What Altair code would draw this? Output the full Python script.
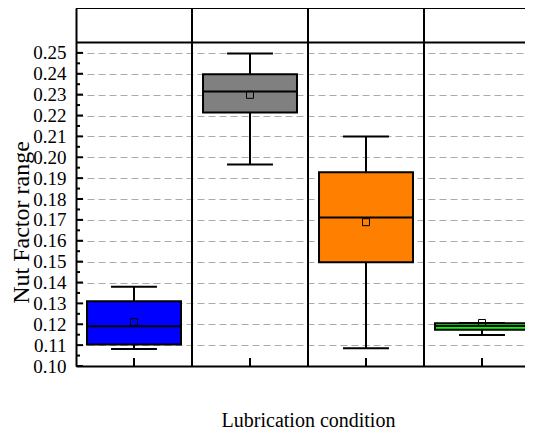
import altair as alt
import pandas as pd

# ---- data ----
conditions = ["Condition 1", "Condition 2", "Condition 3", "Condition 4"]
whisker_low = [0.1081, 0.1965, 0.1085, 0.1149]
q1 = [0.1103, 0.2214, 0.1497, 0.1174]
median = [0.1190, 0.2315, 0.1711, 0.1192]
q3 = [0.1310, 0.2398, 0.1928, 0.1205]
whisker_high = [0.1380, 0.2497, 0.2100, 0.1206]
means = [0.1210, 0.2299, 0.1689, 0.1206]
colors = ["#0000FF", "#808080", "#FF8000", "#00FF00"]
y_ticks = [0.10, 0.11, 0.12, 0.13, 0.14, 0.15, 0.16, 0.17, 0.18, 0.19,
           0.20, 0.21, 0.22, 0.23, 0.24, 0.25]
y_minor = [0.105, 0.115, 0.125, 0.135, 0.145, 0.155, 0.165, 0.175, 0.185,
           0.195, 0.205, 0.215, 0.225, 0.235, 0.245]
header_line = [0.255]

W, H = 449, 358
X_MAX = 449 / 116
Y_DOMAIN = [0.10, 0.2715]
BOX_HALF = 0.405
CAP_HALF = 0.198
FONT = "Liberation Serif"

df = pd.DataFrame({
    "cond": conditions,
    "lo": whisker_low, "q1": q1, "med": median, "q3": q3, "hi": whisker_high,
    "mean": means,
})
df["pos"] = [i + 0.5 for i in range(len(conditions))]
df["bl"] = df["pos"] - BOX_HALF
df["br"] = df["pos"] + BOX_HALF
df["cl"] = df["pos"] - CAP_HALF
df["cr"] = df["pos"] + CAP_HALF

xscale = alt.Scale(domain=[0, X_MAX], nice=False, zero=False)
yscale = alt.Scale(domain=Y_DOMAIN, nice=False, zero=False)

x_axis = alt.Axis(title="Lubrication condition", labels=False, ticks=False,
                  grid=False, domain=True, domainColor="black", domainWidth=2,
                  titleFont=FONT, titleFontSize=20, titleFontWeight="normal",
                  titleColor="black", titleX=232, titleY=60,
                  titleAlign="center", titleBaseline="alphabetic")
y_axis = alt.Axis(title="Nut Factor range", values=y_ticks, format=".2f",
                  ticks=False, tickSize=0, labelPadding=10,
                  labelFont=FONT, labelFontSize=19, labelColor="black",
                  domain=True, domainColor="black", domainWidth=2,
                  grid=True, gridColor="#aaaaaa", gridDash=[7, 4], gridWidth=1,
                  titleFont=FONT, titleFontSize=24, titleFontWeight="normal",
                  titleColor="black", titleX=-48, titleY=214, titleAngle=270,
                  titleAlign="center", titleBaseline="alphabetic")


def X(field):
    return alt.X(field, type="quantitative", scale=xscale, axis=x_axis)


def Y(field):
    return alt.Y(field, type="quantitative", scale=yscale, axis=y_axis)


base = alt.Chart(df)

whisk = base.mark_rule(color="black", strokeWidth=2).encode(
    x=X("pos"), y=Y("lo"), y2="hi")
cap_lo = base.mark_rule(color="black", strokeWidth=2).encode(
    x=X("cl"), x2="cr", y=Y("lo"))
cap_hi = base.mark_rule(color="black", strokeWidth=2).encode(
    x=X("cl"), x2="cr", y=Y("hi"))
boxes = base.mark_rect(stroke="black", strokeWidth=2).encode(
    x=X("bl"), x2="br", y=Y("q1"), y2="q3",
    color=alt.Color("cond:N", scale=alt.Scale(domain=conditions, range=colors),
                    legend=None))
med = base.mark_rule(color="black", strokeWidth=2).encode(
    x=X("bl"), x2="br", y=Y("med"))
mean_pt = base.mark_point(shape="square", size=49, filled=False,
                          stroke="black", strokeWidth=1, opacity=1).encode(
    x=X("pos"), y=Y("mean"))

sep_df = pd.DataFrame({"sep": [1, 2, 3]})
seps = alt.Chart(sep_df).mark_rule(color="black", strokeWidth=2).encode(
    x=X("sep"), y=alt.value(0), y2=alt.value(H))

hdr_df = pd.DataFrame({"h": header_line})
hdr = alt.Chart(hdr_df).mark_rule(color="black", strokeWidth=2).encode(
    y=Y("h"), x=alt.value(0), x2=alt.value(W))
top = alt.Chart(hdr_df).mark_rule(color="black", strokeWidth=2).encode(
    y=alt.value(0), x=alt.value(0), x2=alt.value(W))

maj_df = pd.DataFrame({"t": y_ticks})
min_df = pd.DataFrame({"t": y_minor})
ymaj = alt.Chart(maj_df).mark_rule(color="black", strokeWidth=2).encode(
    y=Y("t"), x=alt.value(0), x2=alt.value(7))
ymin = alt.Chart(min_df).mark_rule(color="black", strokeWidth=2).encode(
    y=Y("t"), x=alt.value(0), x2=alt.value(4))
xt = base.mark_rule(color="black", strokeWidth=2).encode(
    x=X("pos"), y=alt.value(H), y2=alt.value(H - 8))

chart = alt.layer(
    seps, hdr, top, whisk, cap_lo, cap_hi, boxes, med, mean_pt, ymaj, ymin, xt
).properties(
    width=W, height=H,
    autosize=alt.AutoSizeParams(type="none"),
    padding={"left": 68, "top": 0, "right": 0, "bottom": 64},
).configure(font=FONT).configure_view(stroke=None).configure_axis(
    labelFont=FONT, titleFont=FONT)

chart.save("out.html", embed_options={"renderer": "svg", "actions": False})
